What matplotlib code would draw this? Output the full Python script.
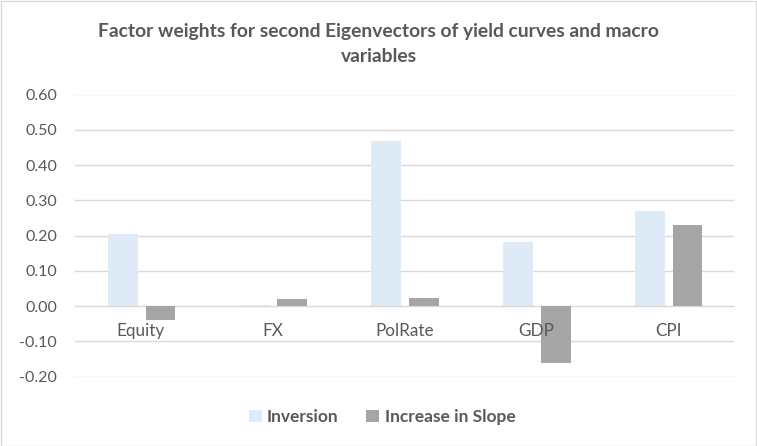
import numpy as np
from matplotlib import pyplot as plt
from matplotlib.patches import Rectangle

categories = ["Equity", "FX", "PolRate", "GDP", "CPI"]
inversion = [0.204, 0.003, 0.468, 0.181, 0.270]
increase_in_slope = [-0.040, 0.021, 0.023, -0.160, 0.230]
y_ticks = [-0.20, -0.10, 0.00, 0.10, 0.20, 0.30, 0.40, 0.50, 0.60]

plt.rcParams['font.family'] = ['Lato', 'DejaVu Sans']
text_col = '#595959'
grid_col = '#D9D9D9'

fig = plt.figure(figsize=(7.57, 4.46), dpi=100)
ax = fig.add_axes([75 / 757, 1 - 376.7 / 446, 659 / 757, (376.7 - 94.5) / 446])

x = np.arange(len(categories))
w = 0.225
ax.bar(x - 0.138, inversion, w, color='#DEEBF7', label='Inversion', zorder=2)
ax.bar(x + 0.148, increase_in_slope, w, color='#A5A5A5', label='Increase in Slope', zorder=2)

ax.set_xlim(-0.5, len(categories) - 0.5)
ax.set_ylim(-0.2, 0.6)
ax.set_yticks(y_ticks)
ax.set_yticklabels([f"{v:.2f}" for v in y_ticks])
ax.yaxis.grid(True, color=grid_col, linewidth=1, zorder=0)
ax.set_axisbelow(True)

for s in ['top', 'right', 'left']:
    ax.spines[s].set_visible(False)
ax.spines['bottom'].set_position(('data', 0))
ax.spines['bottom'].set_color(grid_col)
ax.spines['bottom'].set_zorder(1)

ax.set_xticks([])
ax.tick_params(axis='y', length=0, pad=13, labelsize=11.5, labelcolor=text_col)

# category labels sit just under the zero line, drawn over the bars
for i, name in enumerate(categories):
    ax.annotate(name, (i, 0), xytext=(0, -18), textcoords='offset points',
                ha='center', va='center', fontsize=12.3, color=text_col, zorder=3)

fig.text(0.5, 1 - 32 / 446, "Factor weights for second Eigenvectors of yield curves and macro",
         ha='center', va='center', fontsize=13.9, fontweight='bold', color=text_col)
fig.text(0.5, 1 - 56 / 446, "variables",
         ha='center', va='center', fontsize=13.9, fontweight='bold', color=text_col)

leg = fig.legend(loc='center', bbox_to_anchor=(382 / 757, 1 - 417 / 446), ncol=2, frameon=False,
                 handlelength=0.75, handleheight=0.75, handletextpad=0.3, columnspacing=1.6,
                 prop={'size': 12.5, 'weight': 'bold'})
for t in leg.get_texts():
    t.set_color(text_col)

fig.patches.append(Rectangle((0.5 / 757, 0.5 / 446), 1 - 1.5 / 757, 1 - 1.5 / 446,
                             transform=fig.transFigure, fill=False, edgecolor=grid_col,
                             linewidth=1))

fig.savefig('out.png', dpi=100)
